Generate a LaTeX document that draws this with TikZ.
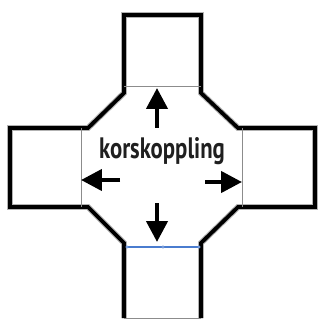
\documentclass[tikz,border=0pt]{standalone}
\usepackage{fontspec}
\setmainfont{PT Sans}
\usetikzlibrary{arrows.meta}
\definecolor{selblue}{HTML}{4A7CCF}
\tikzset{
  outline/.style={line width=2.7pt,line join=miter},
  halo/.style={line width=4.2pt,draw=black!30,line join=miter},
  seam/.style={line width=0.7pt,draw=black!45},
  arr/.style={line width=3pt,-{Triangle[width=0.52cm,length=0.52cm]}},
}
\begin{document}
\begin{tikzpicture}[x=0.025cm,y=-0.025cm]
  \useasboundingbox (0,0) rectangle (320,320);
  % cross outline
  \foreach \sty in {halo,outline}
    \draw[\sty] (124,318) -- (124,243) -- (88,207) -- (10,207) -- (10,128)
      -- (88,128) -- (124,93) -- (124,15) -- (201,15) -- (201,93)
      -- (238,128) -- (315,128) -- (315,207) -- (238,207) -- (201,243) -- (201,318);
  % seams of the arms
  \draw[seam] (124,86) -- (201,86);
  \draw[seam] (81,128) -- (81,207);
  \draw[seam] (242,128) -- (242,207);
  \draw[seam] (124,318) -- (201,318);
  \draw[line width=0.8pt,draw=selblue] (127,247) -- (199,247);
  \foreach \p in {127,163,199}
    \draw[selblue,fill=white,line width=0.4pt] (\p,247) circle (1.3);
  % label and arrows
  \node[font=\bfseries\fontsize{21}{21}\selectfont,text=black!88] (lbl) at (162,151) {\scalebox{0.77}[1]{korskoppling}};
  \coordinate (up) at (157,128);
  \coordinate (dn) at (157,203);
  \coordinate (lt) at (120,180);
  \coordinate (rt) at (205,182);
  \draw[arr] (up) -- ++(0,-40);
  \draw[arr] (dn) -- ++(0,39);
  \draw[arr] (lt) -- ++(-39,0);
  \draw[arr] (rt) -- ++(37,0);
\end{tikzpicture}
\end{document}
